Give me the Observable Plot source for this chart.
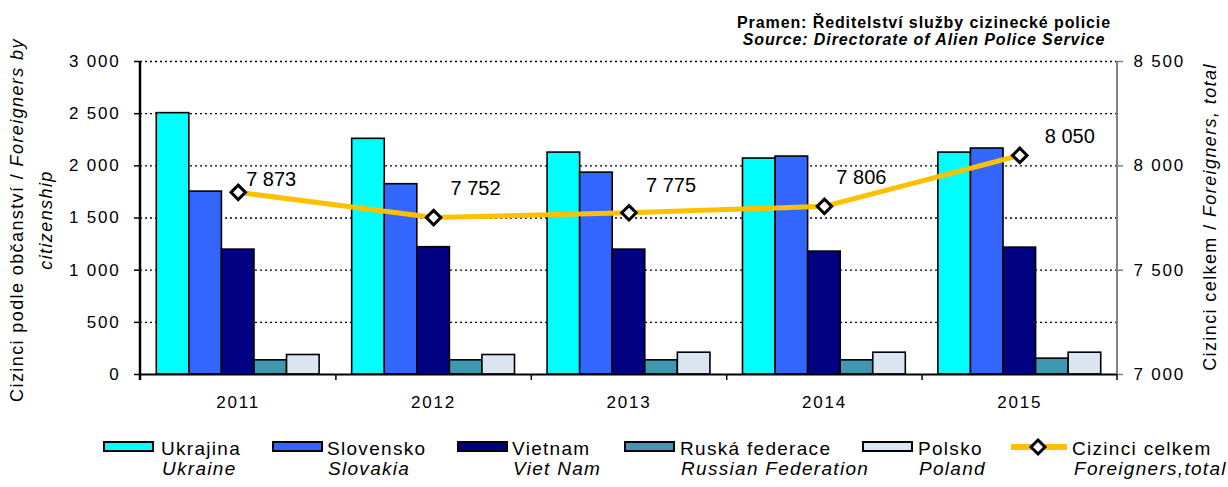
<!DOCTYPE html>
<html><head><meta charset="utf-8">
<script src="https://cdn.jsdelivr.net/npm/d3@7"></script>
<script src="https://cdn.jsdelivr.net/npm/@observablehq/plot@0.6"></script>
<style>
body{margin:0;background:#fff;font-family:"Liberation Sans",Arial,sans-serif;}
#wrap{position:relative;width:1228px;height:487px;overflow:hidden;background:#fff;}
#chart{position:absolute;left:0;top:0;}
.t{position:absolute;white-space:nowrap;color:#000;}
#chart svg g[aria-label="text"] text{letter-spacing:0;}
.src{font-weight:bold;font-size:16px;line-height:17px;letter-spacing:0.9px;text-align:center;width:560px;}
.ttl{font-size:18px;letter-spacing:1.4px;text-align:center;transform:rotate(-90deg);}
.leg{font-size:19px;line-height:20px;letter-spacing:1.3px;}
.sw{position:absolute;box-sizing:border-box;width:51px;height:11px;border:2px solid #000;}
</style></head><body>
<div id="wrap"><div id="chart"></div></div>
<script>
// ---- data ----
const years = ["2011", "2012", "2013", "2014", "2015"];
const countries = ["Ukrajina", "Slovensko", "Vietnam", "Ruská federace", "Polsko"];
const countriesEn = ["Ukraine", "Slovakia", "Viet Nam", "Russian Federation", "Poland"];
const ukrajina = [2505, 2259, 2127, 2070, 2127];
const slovensko = [1753, 1824, 1935, 2089, 2166];
const vietnam = [1197, 1220, 1197, 1178, 1216];
const ruskaFederace = [136, 136, 136, 136, 152];
const polsko = [187, 187, 209, 209, 209];
const cizinciCelkem = [7873, 7752, 7775, 7806, 8050];
const totalName = "Cizinci celkem";
const totalNameEn = "Foreigners,total";
const leftTicks = [0, 500, 1000, 1500, 2000, 2500, 3000];
const rightTicks = [7000, 7500, 8000, 8500];
const colors = ["#00FFFF", "#3366FF", "#000080", "#4197AF", "#DCE6F2"];
const totalColor = "#FFC000";

// ---- build tables ----
const series = [ukrajina, slovensko, vietnam, ruskaFederace, polsko];
const key = (y, c) => y + "|" + c;
const bars = years.flatMap((y, i) => countries.map((c, j) => ({key: key(y, c), country: c, value: series[j][i]})));
const domainX = years.flatMap((y, i) => [...countries.map(c => key(y, c)), ...(i < years.length - 1 ? [key(y, "gap")] : [])]);
const gapKeys = years.slice(0, -1).map(y => key(y, "gap"));
const centerKeys = years.map(y => key(y, countries[2]));
const leftMax = leftTicks[leftTicks.length - 1];
const rMin = rightTicks[0], rMax = rightTicks[rightTicks.length - 1];
const toLeft = v => (v - rMin) * leftMax / (rMax - rMin);
const totals = years.map((y, i) => ({key: key(y, countries[2]), v: cizinciCelkem[i]}));
const fmt = n => d3.format(",")(n).replace(/,/g, "\u00a0");

// label offsets (style)
const labelOffsets = [[33, -13], [42, -29], [42, -27], [37, -29], [50, -19]];

const axisLines = (index, scales, values, dims) => {
  const L = dims.marginLeft, T = dims.marginTop, R = dims.width - dims.marginRight, B = dims.height - dims.marginBottom;
  const g = d3.create("svg:g");
  g.append("line").attr("x1", R).attr("x2", R).attr("y1", T).attr("y2", B).attr("stroke", "#808080").attr("stroke-width", 2);
  g.append("line").attr("x1", L).attr("x2", L).attr("y1", T).attr("y2", B + 6).attr("stroke", "#000").attr("stroke-width", 2.5);
  g.append("line").attr("x1", R).attr("x2", R).attr("y1", B).attr("y2", B + 6).attr("stroke", "#000").attr("stroke-width", 1.5);
  return g.node();
};

const plot = Plot.plot({
  width: 1228,
  height: 420,
  marginTop: 61,
  marginBottom: 46,
  marginLeft: 140,
  marginRight: 111,
  style: {fontFamily: "'Liberation Sans', Arial, sans-serif", fontSize: "17px", letterSpacing: "1.8px", color: "#000", background: "#fff", overflow: "visible"},
  x: {type: "band", domain: domainX, paddingInner: 0, paddingOuter: 0.5, round: false},
  y: {domain: [0, leftMax]},
  color: {domain: countries, range: colors},
  marks: [
    Plot.ruleY(leftTicks.slice(1), {stroke: "#000", strokeWidth: 1.3, strokeDasharray: "2,3"}),
    Plot.barY(bars, {x: "key", y: "value", fill: "country", stroke: "#000", strokeWidth: 1.6}),
    Plot.ruleY([0], {stroke: "#000", strokeWidth: 2}),
    axisLines,
    Plot.axisY({anchor: "left", ticks: leftTicks, tickSize: 6, tickPadding: 14, tickFormat: fmt, stroke: "#000", strokeWidth: 1.5, label: null}),
    Plot.axisY({anchor: "right", ticks: rightTicks.map(toLeft), tickSize: 5, tickPadding: 11, tickFormat: d => fmt(Math.round(d * (rMax - rMin) / leftMax + rMin)), stroke: "#808080", strokeWidth: 1.5, label: null}),
    Plot.axisX({ticks: gapKeys, tickSize: 6, tickFormat: () => "", stroke: "#000", strokeWidth: 1.5, label: null}),
    Plot.axisX({ticks: centerKeys, tickSize: 0, tickPadding: 21, tickFormat: k => k.split("|")[0], label: null}),
    Plot.line(totals, {x: "key", y: d => toLeft(d.v), stroke: totalColor, strokeWidth: 5}),
    Plot.dot(totals, {x: "key", y: d => toLeft(d.v), symbol: "diamond2", r: 6.5, fill: "#fff", stroke: "#000", strokeWidth: 3}),
    ...labelOffsets.map(([dx, dy], i) => Plot.text(totals, {filter: (d, j) => j === i, x: "key", y: d => toLeft(d.v), text: d => fmt(d.v), dx, dy, fontSize: 20, fill: "#000"}))
  ]
});
const wrap = document.getElementById("wrap");
document.getElementById("chart").appendChild(plot);

function add(html, cls, style) {
  const d = document.createElement("div");
  d.className = "t " + cls;
  d.innerHTML = html;
  Object.assign(d.style, style);
  wrap.appendChild(d);
  return d;
}
// source
add("Pramen: Ředitelství služby cizinecké policie<br><i>Source: Directorate of Alien Police Service</i>", "src", {left: (924 - 280) + "px", top: "14px"});
// axis titles
add("Cizinci podle občanství / <i>Foreigners by</i><br><i>citizenship</i>", "ttl", {left: (31.5 - 220) + "px", top: (220 - 29) + "px", width: "440px", height: "58px", lineHeight: "29px"});
add("Cizinci celkem / <i>Foreigners, total</i>", "ttl", {left: (1210 - 200) + "px", top: (216.5 - 12) + "px", width: "400px", height: "24px", lineHeight: "24px"});
// legend
const swatchX = [103, 272, 457, 624, 862];
const textX = [161, 327, 512, 680, 918];
countries.forEach((c, i) => {
  const s = document.createElement("div");
  s.className = "sw";
  Object.assign(s.style, {left: swatchX[i] + "px", top: "441px", background: colors[i]});
  wrap.appendChild(s);
  add(c, "leg", {left: textX[i] + "px", top: "439px"});
  add("<i>" + countriesEn[i] + "</i>", "leg", {left: (textX[i] + 1) + "px", top: "459px"});
});
add('<svg width="56" height="20"><line x1="0" x2="56" y1="10" y2="10" stroke="' + totalColor + '" stroke-width="6" stroke-linecap="round"/><path d="M27,3L34,10L27,17L20,10Z" fill="#fff" stroke="#000" stroke-width="3"/></svg>', "", {left: "1011px", top: "437px"});
add(totalName, "leg", {left: "1072px", top: "439px"});
add("<i>" + totalNameEn + "</i>", "leg", {left: "1074px", top: "459px"});
</script>
</body></html>
